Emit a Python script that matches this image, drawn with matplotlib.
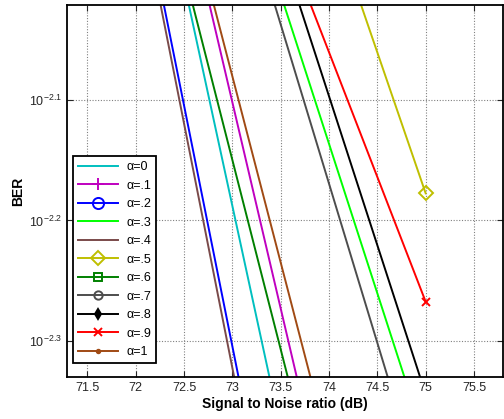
import matplotlib
matplotlib.use("Agg")
import matplotlib.pyplot as plt
from matplotlib.ticker import FixedLocator, NullLocator

plt.rcParams['font.family'] = ['Liberation Sans', 'DejaVu Sans']
plt.rcParams['mathtext.fontset'] = 'custom'
plt.rcParams['mathtext.rm'] = 'Liberation Sans'
plt.rcParams['mathtext.it'] = 'Liberation Sans'

snr = [70, 75]
labels = ['α=0', 'α=.1', 'α=.2', 'α=.3', 'α=.4', 'α=.5', 'α=.6', 'α=.7', 'α=.8', 'α=.9', 'α=1']
ber_a0 = [0.08373, 1.180e-3]
ber_a1 = [0.08413, 1.636e-3]
ber_a2 = [0.07861, 7.870e-4]
ber_a3 = [0.07184, 4.126e-3]
ber_a4 = [0.07851, 7.354e-4]
ber_a5 = [0.09824, 6.645e-3]
ber_a6 = [0.06215, 1.666e-3]
ber_a7 = [0.07725, 3.684e-3]
ber_a8 = [0.07810, 4.527e-3]
ber_a9 = [0.05863, 5.402e-3]
ber_a10 = [0.07030, 2.003e-3]
series = [ber_a0, ber_a1, ber_a2, ber_a3, ber_a4, ber_a5, ber_a6, ber_a7, ber_a8, ber_a9, ber_a10]

colors = ['#00bfbf', '#bf00bf', '#0000ff', '#00ff00', '#7a4a4a', '#bfbf00',
          '#008000', '#4d4d4d', '#000000', '#ff0000', '#a04a14']
markers = [None, '+', 'o', None, None, 'D', 's', 'o', 'd', 'x', '.']
msizes = [0, 8, 8, 0, 0, 7, 6, 6, 5, 6, 5]
mfcs = ['none', 'none', 'none', 'none', 'none', 'none', 'none', 'none', 'k', 'none', '#a04a14']

xticks = [71.5, 72, 72.5, 73, 73.5, 74, 74.5, 75, 75.5]
ytick_exp = [-2.3, -2.2, -2.1]

fig = plt.figure(figsize=(5.04, 4.19), dpi=100)
ax = fig.add_axes([67/504, 42/419, 436/504, 372/419])

for ber, c, m, ms, mfc, lab in zip(series, colors, markers, msizes, mfcs, labels):
    ax.plot(snr, ber, color=c, lw=1.4, marker=m, markersize=ms,
            markerfacecolor=mfc, markeredgewidth=1.4, label=lab)

ax.set_yscale('log')
ax.set_xlim(71.29, 75.8)
ax.set_ylim(10**-2.3299, 10**-2.0212)
ax.xaxis.set_major_locator(FixedLocator(xticks))
ax.set_xticklabels(['71.5', '72', '72.5', '73', '73.5', '74', '74.5', '75', '75.5'])
ax.yaxis.set_major_locator(FixedLocator([10**e for e in ytick_exp]))
ax.yaxis.set_minor_locator(NullLocator())
ax.set_yticklabels([r'$10^{%g}$' % e for e in ytick_exp])

ax.grid(True, which='major', color='#808080', linestyle=(0, (1, 1.5)), linewidth=0.8)
ax.tick_params(direction='in', top=True, right=True, length=4, width=0.8,
               labelsize=9, colors='#262626', labelcolor='#262626')
for s in ax.spines.values():
    s.set_linewidth(1.3)
    s.set_color('black')

ax.set_xlabel('Signal to Noise ratio (dB)', fontsize=10, fontweight='bold', labelpad=2)
ax.set_ylabel('BER', fontsize=10, fontweight='bold')
ax.yaxis.set_label_coords(-0.096, 0.5)

leg = ax.legend(loc='lower left', bbox_to_anchor=(6/436, 14/372), borderaxespad=0,
                fontsize=9, handlelength=3.2, handletextpad=0.65, labelspacing=0.52,
                borderpad=0.4, fancybox=False, framealpha=1, edgecolor='black',
                numpoints=1)
leg.get_frame().set_linewidth(1.3)

fig.savefig('out.png', dpi=100)
